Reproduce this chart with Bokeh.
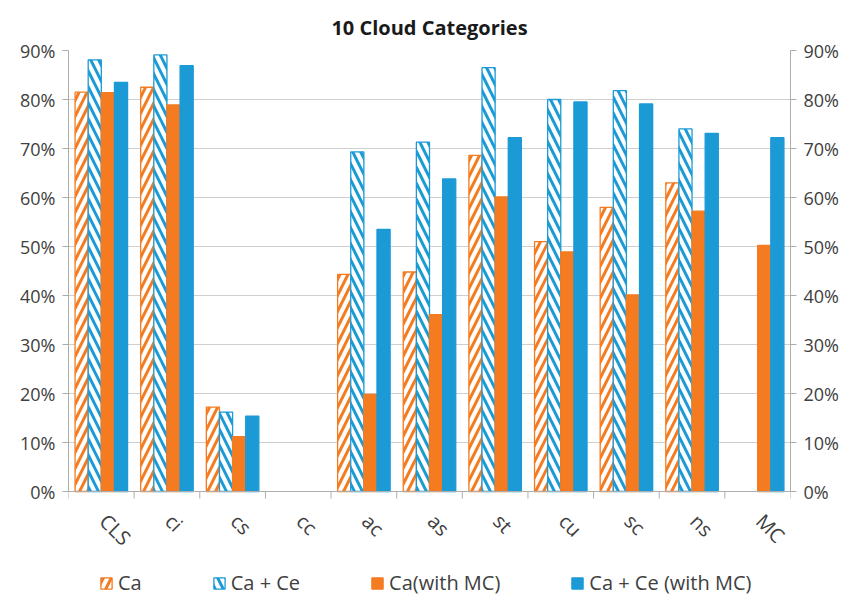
import math

from bokeh.core.properties import value
from bokeh.embed import file_html
from bokeh.models import (ColumnDataSource, FixedTicker, Legend, LegendItem, LinearAxis,
                          NumeralTickFormatter, Range1d, Span)
from bokeh.plotting import figure
from bokeh.resources import INLINE
from bokeh.transform import dodge

# Cloud categories and the four detection-rate series (fractions)
categories = ["CLS", "ci", "cs", "cc", "ac", "as", "st", "cu", "sc", "ns", "MC"]
ca = [0.815, 0.825, 0.172, 0.0, 0.443, 0.448, 0.686, 0.510, 0.580, 0.630, 0.0]
ca_ce = [0.881, 0.891, 0.162, 0.0, 0.693, 0.713, 0.865, 0.800, 0.818, 0.740, 0.0]
ca_mc = [0.814, 0.789, 0.112, 0.0, 0.198, 0.361, 0.601, 0.489, 0.401, 0.572, 0.502]
ca_ce_mc = [0.835, 0.869, 0.154, 0.0, 0.535, 0.638, 0.722, 0.795, 0.791, 0.731, 0.722]
y_ticks = [0.0, 0.1, 0.2, 0.3, 0.4, 0.5, 0.6, 0.7, 0.8, 0.9]

ORANGE = "#F47B20"
BLUE = "#1B9AD6"
AXIS_GREY = "#ADADAD"
GRID_GREY = "#CFCFCF"
TEXT = "#404040"
FONT = "Open Sans"

# layout: the value axis spans 441 px for 0..90 %, and the frame continues
# below the zero line so the category names and the legend sit inside it
Y_MAX = 0.9
TOP_BORDER = 50
FRAME_H = 598 - TOP_BORDER
VALUE_PX = 441
PX_PER_UNIT = VALUE_PX / Y_MAX
Y_MIN = -(FRAME_H - VALUE_PX) / PX_PER_UNIT
TICK_LEN = 7 / PX_PER_UNIT
LABEL_DROP = 26 / PX_PER_UNIT

n = len(categories)
# each category occupies one unit slot; its name sits at the slot centre
centers = [i + 0.5 for i in range(n)]
bounds = [float(i) for i in range(n + 1)]


def series_source(values):
    # empty categories get no bar at all
    slots = [c for c, v in zip(centers, values) if v > 0]
    vals = [v for v in values if v > 0]
    return ColumnDataSource(data=dict(slot=slots, val=vals))


p = figure(
    x_range=Range1d(0, n),
    y_range=Range1d(Y_MIN, Y_MAX),
    frame_width=722, frame_height=FRAME_H,
    output_backend="svg", toolbar_location=None,
    x_axis_location=None,
    min_border_left=68, min_border_right=61, min_border_top=TOP_BORDER, min_border_bottom=0,
)
p.outline_line_color = None
p.background_fill_color = "white"
p.border_fill_color = "white"

p.title.text = "10 Cloud Categories"
p.title.align = "center"
p.title.text_font = FONT
p.title.text_font_style = "bold"
p.title.text_font_size = "20px"
p.title.text_color = "#1A1A1A"
p.title.standoff = 20

p.xgrid.visible = False
p.ygrid.grid_line_color = GRID_GREY
p.ygrid.ticker = FixedTicker(ticks=y_ticks)

bar_common = dict(width=0.2, line_width=1.3)
hatch_common = dict(fill_color="white", hatch_scale=16, hatch_weight=3)

r_ca = p.vbar(x=dodge("slot", -0.3), top="val", source=series_source(ca),
              line_color=ORANGE, hatch_pattern="/", hatch_color=ORANGE,
              **bar_common, **hatch_common)
r_ca_ce = p.vbar(x=dodge("slot", -0.1), top="val", source=series_source(ca_ce),
                 line_color=BLUE, hatch_pattern="\\", hatch_color=BLUE,
                 **bar_common, **hatch_common)
r_ca_mc = p.vbar(x=dodge("slot", 0.1), top="val", source=series_source(ca_mc),
                 fill_color=ORANGE, line_color=ORANGE, **bar_common)
r_ca_ce_mc = p.vbar(x=dodge("slot", 0.3), top="val", source=series_source(ca_ce_mc),
                    fill_color=BLUE, line_color=BLUE, **bar_common)

# percentage axes on both sides, limited to 0..90 %
def style_y(axis):
    axis.ticker = FixedTicker(ticks=y_ticks)
    axis.formatter = NumeralTickFormatter(format="0%")
    axis.bounds = (0, Y_MAX)
    axis.axis_line_color = AXIS_GREY
    axis.major_tick_line_color = AXIS_GREY
    axis.major_tick_in = 0
    axis.major_tick_out = 6
    axis.minor_tick_line_color = None
    axis.major_label_text_font = FONT
    axis.major_label_text_font_size = "18px"
    axis.major_label_text_color = TEXT
    axis.major_label_standoff = 7

style_y(p.yaxis[0])
right_axis = LinearAxis()
style_y(right_axis)
p.add_layout(right_axis, "right")

# category baseline, slot-boundary tick marks and slanted category names
p.add_layout(Span(location=0, dimension="width", line_color=AXIS_GREY, line_width=1))
tick_src = ColumnDataSource(data=dict(x=bounds, y0=[0.0] * len(bounds),
                                      y1=[-TICK_LEN] * len(bounds)))
p.segment(x0="x", y0="y0", x1="x", y1="y1", source=tick_src,
          line_color=AXIS_GREY, line_width=1)
name_src = ColumnDataSource(data=dict(slot=centers, name=categories,
                                      y=[-LABEL_DROP] * n))
p.text(x="slot", y="y", text="name", source=name_src,
       angle=-math.pi / 4, x_offset=2,
       text_align="left", text_baseline="middle",
       text_font=value(FONT), text_font_size="20px", text_color=TEXT)

legend = Legend(
    items=[
        LegendItem(label="Ca", renderers=[r_ca]),
        LegendItem(label="Ca + Ce", renderers=[r_ca_ce]),
        LegendItem(label="Ca(with MC)", renderers=[r_ca_mc]),
        LegendItem(label="Ca + Ce (with MC)", renderers=[r_ca_ce_mc]),
    ],
    orientation="horizontal",
    location=(31, 2),
    border_line_color=None,
    background_fill_alpha=0,
    label_text_font=FONT,
    label_text_font_size="20px",
    label_text_color=TEXT,
    glyph_width=14, glyph_height=14,
    spacing=70, label_standoff=5,
    margin=0, padding=2,
)
p.add_layout(legend)

open("out.html", "w").write(file_html(p, INLINE))
